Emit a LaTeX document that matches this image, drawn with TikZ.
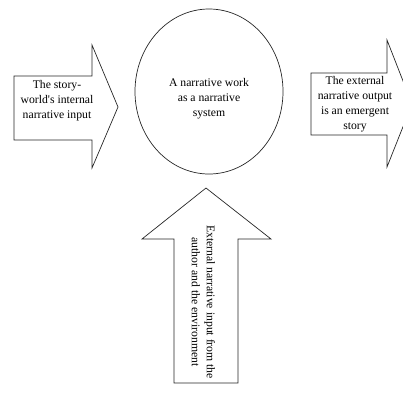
\documentclass[tikz,border=0pt]{standalone}
\usepackage{fontspec}
\setmainfont{Liberation Serif}
\begin{document}
\begin{tikzpicture}[x=1pt,y=-1pt,
  outline/.style={draw=black!85,line width=0.7pt,line join=miter},
  label/.style={align=center,font=\fontsize{11.7}{15}\selectfont,inner sep=0pt}]
\useasboundingbox (0,0) rectangle (403,394);
\begin{scope}
\clip (0,0) rectangle (403,394);
% input arrow from the left
\draw[outline] (14,76) -- (92,76) -- (92,45) -- (118,107) -- (92,168) -- (92,140) -- (14,140) -- cycle;
% output arrow to the right
\draw[outline] (311,73) -- (387,73) -- (387,40) -- (412,104) -- (387,167) -- (387,135) -- (311,135) -- cycle;
% upward arrow from below
\draw[outline] (174,383) -- (174,239) -- (142,239) -- (206,188) -- (271,239) -- (238,239) -- (238,383) -- cycle;
\end{scope}
% the narrative system
\draw[outline] (209,91.5) ellipse [x radius=74, y radius=82.5];
\node[label] (sys) at (209,99) {A narrative work\\as a narrative\\system};
\node[label] (inner) at (57,101) {The story-\\world\textquotesingle s internal\\narrative input};
\node[label] (outer) at (355,104) {The external\\narrative output\\is an emergent\\story};
\node[label,rotate=-90] (ext) at (203.5,302) {External narrative input from the\\author and the environment};
\end{tikzpicture}
\end{document}
